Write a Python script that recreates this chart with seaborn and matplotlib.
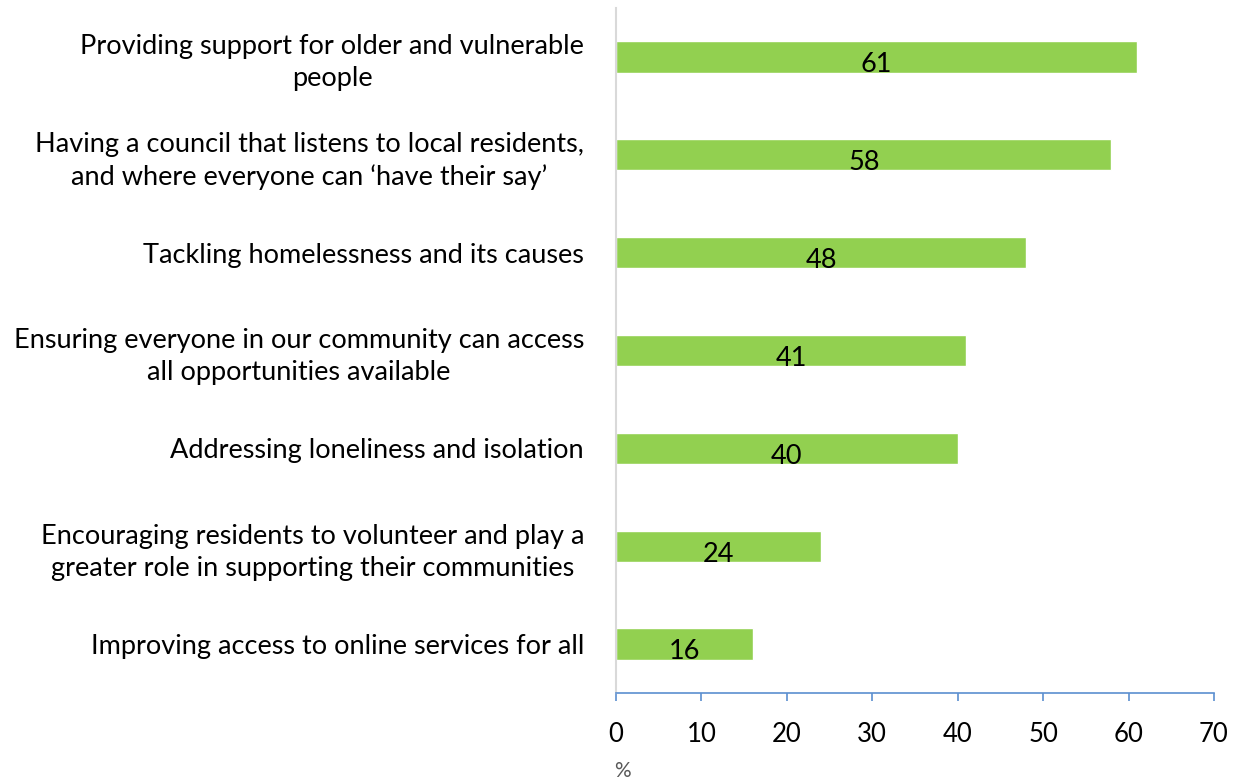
import matplotlib
matplotlib.use("Agg")
import matplotlib.pyplot as plt
import seaborn as sns
import pandas as pd

categories = [
    "Providing support for older and vulnerable\npeople",
    "Having a council that listens to local residents,\nand where everyone can \u2018have their say\u2019",
    "Tackling homelessness and its causes",
    "Ensuring everyone in our community can access\nall opportunities available",
    "Addressing loneliness and isolation",
    "Encouraging residents to volunteer and play a\ngreater role in supporting their communities",
    "Improving access to online services for all",
]
values = [61, 58, 48, 41, 40, 24, 16]
x_ticks = [0, 10, 20, 30, 40, 50, 60, 70]

sns.set_theme(style="white")
plt.rcParams['font.family'] = ['Lato', 'DejaVu Sans']

df = pd.DataFrame({"cat": categories, "val": values})

fig = plt.figure(figsize=(12.36, 7.82), dpi=100)
ax = fig.add_axes([616/1236, 1-693/782, (1214-616)/1236, (693-8)/782])

sns.barplot(data=df, x="val", y="cat", orient="h", color="#92D050",
            width=0.32, saturation=1, ax=ax, order=categories)

for i, v in enumerate(values):
    ax.text(v/2, i + 0.08, str(v), ha="center", va="center", fontsize=19.5, color="black")

ax.set_xlim(0, 70)
ax.set_ylim(len(categories) - 0.5, -0.5)
ax.set_xticks(x_ticks)
ax.set_xticklabels([str(t) for t in x_ticks], fontsize=18.5, color="black")
ax.set_xlabel("")
ax.set_ylabel("")

for lbl in ax.get_yticklabels():
    lbl.set_multialignment("center")
    lbl.set_fontsize(19.5)
    lbl.set_color("black")
    lbl.set_linespacing(1.35)
ax.tick_params(axis="y", length=0, pad=23)
ax.tick_params(axis="x", direction="out", length=6, width=1.2, color="#5B8FD0",
               pad=15, bottom=True)

for s in ["top", "right"]:
    ax.spines[s].set_visible(False)
ax.spines["left"].set_color("#D9D9D9")
ax.spines["left"].set_linewidth(1.5)
ax.spines["bottom"].set_color("#5B8FD0")
ax.spines["bottom"].set_linewidth(1.2)

fig.text(622/1236, 1-771/782, "%", ha="center", va="center", fontsize=15, color="#595959")

fig.savefig("out.png", dpi=100)
